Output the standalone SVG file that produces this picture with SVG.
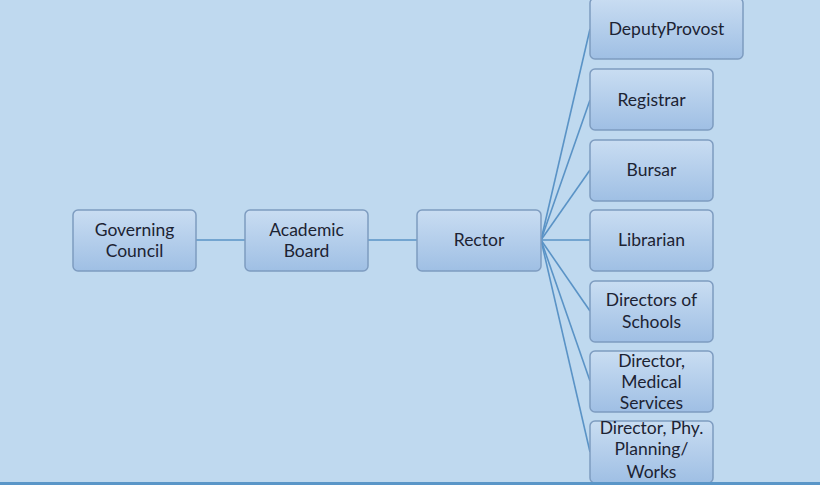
<svg xmlns="http://www.w3.org/2000/svg" width="820" height="485" viewBox="0 0 820 485">
<defs>
<linearGradient id="g" x1="0" y1="0" x2="0" y2="1">
<stop offset="0" stop-color="#c9ddf2"/>
<stop offset="1" stop-color="#9fbfe4"/>
</linearGradient>
<style>
.box{fill:url(#g);stroke:#7e9cc0;stroke-width:1.5}
.t{font-family:Lato,"Open Sans","Liberation Sans",sans-serif;font-size:17.5px;fill:#1c2333;text-anchor:middle}
.c{stroke:#5a93c6;stroke-width:1.6;fill:none}
</style>
</defs>
<rect width="820" height="485" fill="#bfd9ef"/>
<g id="connectors">
<line class="c" x1="196" y1="240" x2="245" y2="240"/>
<line class="c" x1="368" y1="240" x2="417" y2="240"/>
<line class="c" x1="541" y1="240" x2="590" y2="29"/>
<line class="c" x1="541" y1="240" x2="590" y2="100"/>
<line class="c" x1="541" y1="240" x2="590" y2="170"/>
<line class="c" x1="541" y1="240" x2="590" y2="240"/>
<line class="c" x1="541" y1="240" x2="590" y2="311"/>
<line class="c" x1="541" y1="240" x2="590" y2="381"/>
<line class="c" x1="541" y1="240" x2="590" y2="452"/>
</g>
<g id="governing"><rect class="box" x="73" y="210" width="123" height="61" rx="5"/><text class="t" x="134.5" y="236">Governing</text><text class="t" x="134.5" y="257">Council</text></g>
<g id="academic"><rect class="box" x="245" y="210" width="123" height="61" rx="5"/><text class="t" x="306.5" y="236">Academic</text><text class="t" x="306.5" y="257">Board</text></g>
<g id="rector"><rect class="box" x="417" y="210" width="124" height="61" rx="5"/><text class="t" x="479" y="246">Rector</text></g>
<g id="deputy"><rect class="box" x="590" y="-2" width="153" height="61" rx="5"/><text class="t" x="666.5" y="35">DeputyProvost</text></g>
<g id="registrar"><rect class="box" x="590" y="69" width="123" height="61" rx="5"/><text class="t" x="651.5" y="106">Registrar</text></g>
<g id="bursar"><rect class="box" x="590" y="140" width="123" height="61" rx="5"/><text class="t" x="651.5" y="176">Bursar</text></g>
<g id="librarian"><rect class="box" x="590" y="210" width="123" height="61" rx="5"/><text class="t" x="651.5" y="246">Librarian</text></g>
<g id="schools"><rect class="box" x="590" y="281" width="123" height="61" rx="5"/><text class="t" x="651.5" y="306">Directors of</text><text class="t" x="651.5" y="328">Schools</text></g>
<g id="medical"><rect class="box" x="590" y="351" width="123" height="61" rx="5"/><text class="t" x="651.5" y="367">Director,</text><text class="t" x="651.5" y="388">Medical</text><text class="t" x="651.5" y="409">Services</text></g>
<g id="planning"><rect class="box" x="590" y="421" width="123" height="62" rx="5"/><text class="t" x="651.5" y="434">Director, Phy.</text><text class="t" x="651.5" y="455">Planning/</text><text class="t" x="651.5" y="478">Works</text></g>
<rect x="0" y="482" width="820" height="3" fill="#5a96c8"/>
</svg>
